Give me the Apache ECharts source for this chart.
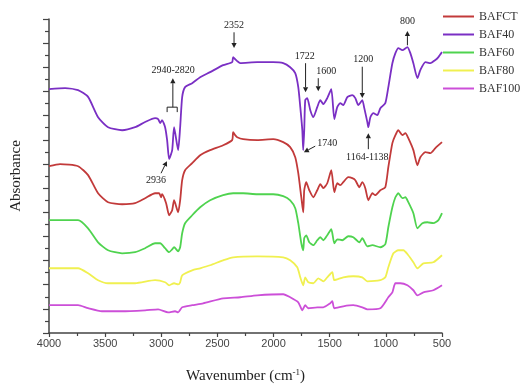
<!DOCTYPE html>
<html>
<head>
<meta charset="utf-8">
<script src="https://cdn.jsdelivr.net/npm/echarts@6/dist/echarts.min.js"></script>
<style>
  html, body { margin: 0; padding: 0; background: #fff; }
  #chart { width: 522px; height: 385px; }
</style>
</head>
<body>
<div id="chart"></div>
<script>
// FTIR spectra, [wavenumber, absorbance (offset, a.u.)]
const bafct = [
  [4000, 13.81], [3902, 13.98], [3741, 13.81], [3652, 13.07], [3563, 11.57], [3474, 10.83], [3349, 10.66],
  [3233, 10.75], [3144, 11.16], [3055, 11.57], [3019, 11.57], [3002, 11.24], [2993, 11.49], [2957, 10.75],
  [2930, 9.75], [2903, 10.17], [2886, 10.99], [2850, 10.0], [2832, 10.99], [2814, 12.65], [2788, 13.48],
  [2725, 14.06], [2654, 14.72], [2565, 15.14], [2449, 15.55], [2369, 15.97], [2360, 16.63], [2342, 16.38],
  [2324, 16.21], [2271, 16.05], [2146, 15.97], [2003, 16.05], [1914, 15.8], [1852, 15.39], [1807, 14.56],
  [1780, 13.23], [1753, 11.24], [1736, 9.99], [1727, 11.82], [1709, 12.49], [1682, 11.82], [1646, 11.24],
  [1611, 11.82], [1584, 12.32], [1557, 11.99], [1522, 12.4], [1486, 13.48], [1459, 11.66], [1433, 12.4],
  [1406, 12.24], [1379, 12.49], [1335, 12.9], [1299, 12.82], [1272, 12.65], [1236, 12.07], [1210, 12.49],
  [1183, 11.99], [1156, 10.99], [1120, 11.57], [1094, 11.41], [1049, 11.82], [1005, 12.07], [978, 13.73],
  [942, 15.72], [915, 16.38], [889, 16.79], [853, 16.38], [826, 16.55], [800, 16.13], [755, 15.14],
  [719, 13.89], [693, 14.56], [648, 14.97], [603, 14.89], [559, 15.31], [500, 15.8]
];
const baf40 = [
  [4000, 20.19], [3857, 20.27], [3741, 20.11], [3652, 19.55], [3563, 17.87], [3474, 17.04], [3349, 16.79],
  [3233, 17.04], [3144, 17.47], [3055, 17.79], [3028, 17.71], [3010, 17.38], [2993, 17.62], [2966, 17.04],
  [2948, 15.97], [2930, 14.4], [2903, 15.14], [2886, 17.04], [2850, 15.14], [2832, 17.04], [2814, 19.53],
  [2788, 20.36], [2725, 20.69], [2654, 21.18], [2565, 21.6], [2449, 22.18], [2369, 22.43], [2360, 22.85],
  [2342, 22.68], [2324, 22.51], [2297, 22.35], [2146, 22.43], [2003, 22.43], [1914, 22.35], [1852, 22.01],
  [1807, 21.52], [1780, 20.36], [1762, 18.7], [1744, 16.79], [1736, 15.14], [1727, 16.79], [1718, 19.28],
  [1700, 19.45], [1673, 18.45], [1646, 17.87], [1611, 18.7], [1584, 19.28], [1557, 18.95], [1522, 19.45],
  [1486, 20.19], [1459, 17.71], [1433, 18.7], [1406, 19.03], [1379, 18.87], [1343, 19.53], [1299, 19.7],
  [1272, 19.45], [1245, 18.87], [1210, 19.28], [1192, 18.62], [1165, 17.46], [1156, 17.04], [1138, 17.87],
  [1112, 18.2], [1076, 18.04], [1049, 18.62], [1005, 19.03], [978, 20.36], [942, 22.34], [915, 23.17],
  [889, 23.59], [853, 23.42], [808, 23.67], [782, 23.17], [755, 22.34], [719, 21.1], [693, 21.77],
  [648, 22.43], [603, 22.35], [559, 22.6], [532, 22.84], [500, 23.26]
];
const baf60 = [
  [4000, 9.34], [3741, 9.34], [3652, 8.67], [3563, 7.51], [3474, 6.85], [3349, 6.6], [3233, 6.69],
  [3144, 7.02], [3055, 7.43], [3010, 7.43], [2966, 7.02], [2930, 6.69], [2903, 6.93], [2886, 7.1],
  [2850, 6.77], [2832, 7.1], [2814, 8.26], [2788, 9.09], [2725, 9.75], [2654, 10.41], [2565, 10.99],
  [2449, 11.41], [2360, 11.57], [2271, 11.57], [2146, 11.49], [2003, 11.49], [1914, 11.33], [1852, 10.99],
  [1807, 10.33], [1780, 9.09], [1753, 7.43], [1736, 6.85], [1727, 7.85], [1709, 8.09], [1682, 7.51],
  [1646, 7.27], [1611, 7.68], [1584, 7.93], [1557, 7.68], [1522, 8.09], [1486, 8.59], [1459, 7.43],
  [1433, 7.76], [1388, 7.68], [1335, 8.01], [1290, 7.93], [1236, 7.51], [1210, 7.85], [1165, 7.18],
  [1120, 7.27], [1049, 7.1], [1005, 7.35], [978, 8.76], [942, 10.41], [915, 11.24], [889, 11.57],
  [853, 11.16], [826, 11.24], [800, 10.83], [755, 9.92], [719, 8.67], [675, 9.09], [630, 9.17],
  [577, 9.09], [532, 9.34], [500, 9.92]
];
const baf80 = [
  [4000, 5.36], [3741, 5.36], [3652, 4.95], [3563, 4.37], [3474, 4.12], [3349, 4.12], [3233, 4.12],
  [3055, 4.37], [2966, 4.2], [2930, 3.95], [2886, 4.12], [2850, 4.03], [2832, 4.2], [2814, 4.78],
  [2725, 5.19], [2654, 5.36], [2565, 5.61], [2449, 6.02], [2360, 6.27], [2146, 6.35], [1914, 6.27],
  [1852, 6.02], [1789, 5.44], [1762, 4.61], [1736, 3.95], [1718, 4.61], [1691, 4.2], [1646, 4.12],
  [1602, 4.53], [1557, 4.28], [1522, 4.61], [1477, 5.03], [1459, 4.37], [1379, 4.61], [1290, 4.7],
  [1210, 4.61], [1165, 4.28], [1049, 4.37], [1005, 4.61], [978, 5.44], [933, 6.6], [889, 6.85],
  [844, 6.85], [800, 6.44], [755, 5.86], [719, 5.36], [666, 5.77], [577, 5.86], [500, 6.44]
];
const baf100 = [
  [4000, 2.3], [3741, 2.3], [3652, 2.05], [3528, 1.8], [3349, 1.8], [3144, 1.88], [3028, 1.96],
  [2939, 1.71], [2877, 1.8], [2850, 1.71], [2814, 2.13], [2725, 2.3], [2627, 2.46], [2449, 2.87],
  [2297, 2.96], [2146, 3.12], [1914, 3.21], [1852, 2.96], [1780, 2.54], [1744, 1.88], [1718, 2.3],
  [1691, 2.05], [1611, 2.13], [1557, 2.13], [1495, 2.46], [1477, 2.63], [1459, 2.05], [1379, 2.21],
  [1290, 2.3], [1210, 2.13], [1165, 1.96], [1049, 2.05], [978, 2.96], [942, 3.37], [915, 4.12],
  [871, 4.12], [808, 3.95], [755, 3.54], [719, 3.12], [666, 3.37], [577, 3.54], [500, 3.95]
];

const seriesNames = ["BAFCT", "BAF40", "BAF60", "BAF80", "BAF100"];
const seriesData = [bafct, baf40, baf60, baf80, baf100];
const colors = ["#C23A3A", "#7A2FC4", "#4FD34F", "#F0F050", "#CC4FD8"];
const xTicks = { min: 500, max: 4000, interval: 500 };

// peak labels: text position + arrow (tail -> tip), all in [wavenumber, value]
const labels = [
  { text: "2352", at: [2352, 25.5], arrow: [[2352, 24.9], [2352, 23.6]] },
  { text: "2940-2820", at: [2895, 21.76], arrow: [[2897, 18.7], [2897, 21.1]] },
  { text: "2936", at: [3046, 12.65], arrow: [[3002, 13.23], [2950, 14.23]] },
  { text: "1722", at: [1722, 22.92], arrow: [[1715, 22.34], [1715, 19.94]] },
  { text: "1600", at: [1531, 21.68], arrow: [[1602, 21.1], [1602, 20.02]] },
  { text: "1200", at: [1201, 22.62], arrow: [[1210, 22.05], [1210, 19.45]] },
  { text: "1740", at: [1522, 15.72], arrow: [[1629, 15.47], [1730, 14.97]] },
  { text: "1164-1138", at: [1165, 14.56], arrow: [[1156, 15.22], [1156, 16.55]] },
  { text: "800", at: [808, 25.83], arrow: [[808, 23.82], [808, 25.0]] }
];
const bracket = [[2948, 18.29], [2948, 18.7], [2858, 18.7], [2858, 18.29]];

const chart = echarts.init(document.getElementById("chart"));

chart.setOption({
  animation: false,
  backgroundColor: "#fff",
  grid: { left: 49, right: 80, top: 19, bottom: 52, containLabel: false, outerBoundsMode: "none" },
  legend: {
    orient: "vertical",
    left: 443,
    top: 10,
    padding: 0,
    itemWidth: 31,
    itemHeight: 2,
    itemGap: 5,
    icon: "rect",
    data: seriesNames,
    textStyle: { fontFamily: "Liberation Serif", fontSize: 12, color: "#333", lineHeight: 13 }
  },
  xAxis: {
    type: "value",
    inverse: true,
    min: xTicks.min,
    max: xTicks.max,
    interval: xTicks.interval,
    name: "Wavenumber (cm{sup|-1})",
    nameLocation: "middle",
    nameGap: 35,
    nameTextStyle: {
      fontFamily: "Liberation Serif", fontSize: 15, color: "#222",
      rich: { sup: { fontFamily: "Liberation Serif", fontSize: 9, verticalAlign: "top", padding: [0, 0, 7, 0], color: "#222" } }
    },
    axisLine: { show: true, lineStyle: { color: "#444", width: 1.5 } },
    axisTick: { show: true, inside: false, length: 4, lineStyle: { color: "#444", width: 1.2 } },
    minorTick: { show: true, splitNumber: 2, length: 3, lineStyle: { color: "#444", width: 1.2 } },
    axisLabel: { margin: 5, fontFamily: "Liberation Sans", fontSize: 11, color: "#444", formatter: v => String(v) },
    splitLine: { show: false }
  },
  yAxis: {
    type: "value",
    min: 0,
    max: 26,
    interval: 2,
    name: "Absorbance",
    nameLocation: "middle",
    nameGap: 25,
    nameTextStyle: { fontFamily: "Liberation Serif", fontSize: 15, color: "#222" },
    axisLine: { show: true, lineStyle: { color: "#444", width: 1.5 } },
    axisTick: { show: true, inside: false, length: 6, lineStyle: { color: "#444", width: 1.2 } },
    minorTick: { show: true, splitNumber: 2, length: 4, lineStyle: { color: "#444", width: 1.2 } },
    axisLabel: { show: false },
    splitLine: { show: false }
  },
  series: seriesNames.map((name, i) => ({
    name: name,
    type: "line",
    data: seriesData[i],
    showSymbol: false,
    symbol: "none",
    smooth: 0.2,
    color: colors[i],
    lineStyle: { width: 1.8, color: colors[i] }
  }))
});

// annotations drawn on top, positioned through the axes
function px(p) {
  return chart.convertToPixel({ gridIndex: 0 }, p);
}

function arrow(from, to) {
  const a = px(from), b = px(to);
  const ang = Math.atan2(b[1] - a[1], b[0] - a[0]);
  const len = 5, half = 2.6;
  const bx = b[0] - Math.cos(ang) * len, by = b[1] - Math.sin(ang) * len;
  const nx = -Math.sin(ang) * half, ny = Math.cos(ang) * half;
  return [
    { type: "line", shape: { x1: a[0], y1: a[1], x2: bx, y2: by }, style: { stroke: "#222", lineWidth: 1 }, z: 100 },
    { type: "polygon", shape: { points: [[b[0], b[1]], [bx + nx, by + ny], [bx - nx, by - ny]] }, style: { fill: "#222" }, z: 100 }
  ];
}

const graphics = [];
labels.forEach(l => {
  const p = px(l.at);
  graphics.push({
    type: "text", x: p[0], y: p[1], z: 100,
    style: { text: l.text, fill: "#222", font: "10px 'Liberation Serif'", align: "center", verticalAlign: "middle" }
  });
  graphics.push(...arrow(l.arrow[0], l.arrow[1]));
});
graphics.push({
  type: "polyline", z: 100,
  shape: { points: bracket.map(px) },
  style: { stroke: "#222", lineWidth: 1, fill: null }
});

chart.setOption({ graphic: graphics });
</script>
</body>
</html>
